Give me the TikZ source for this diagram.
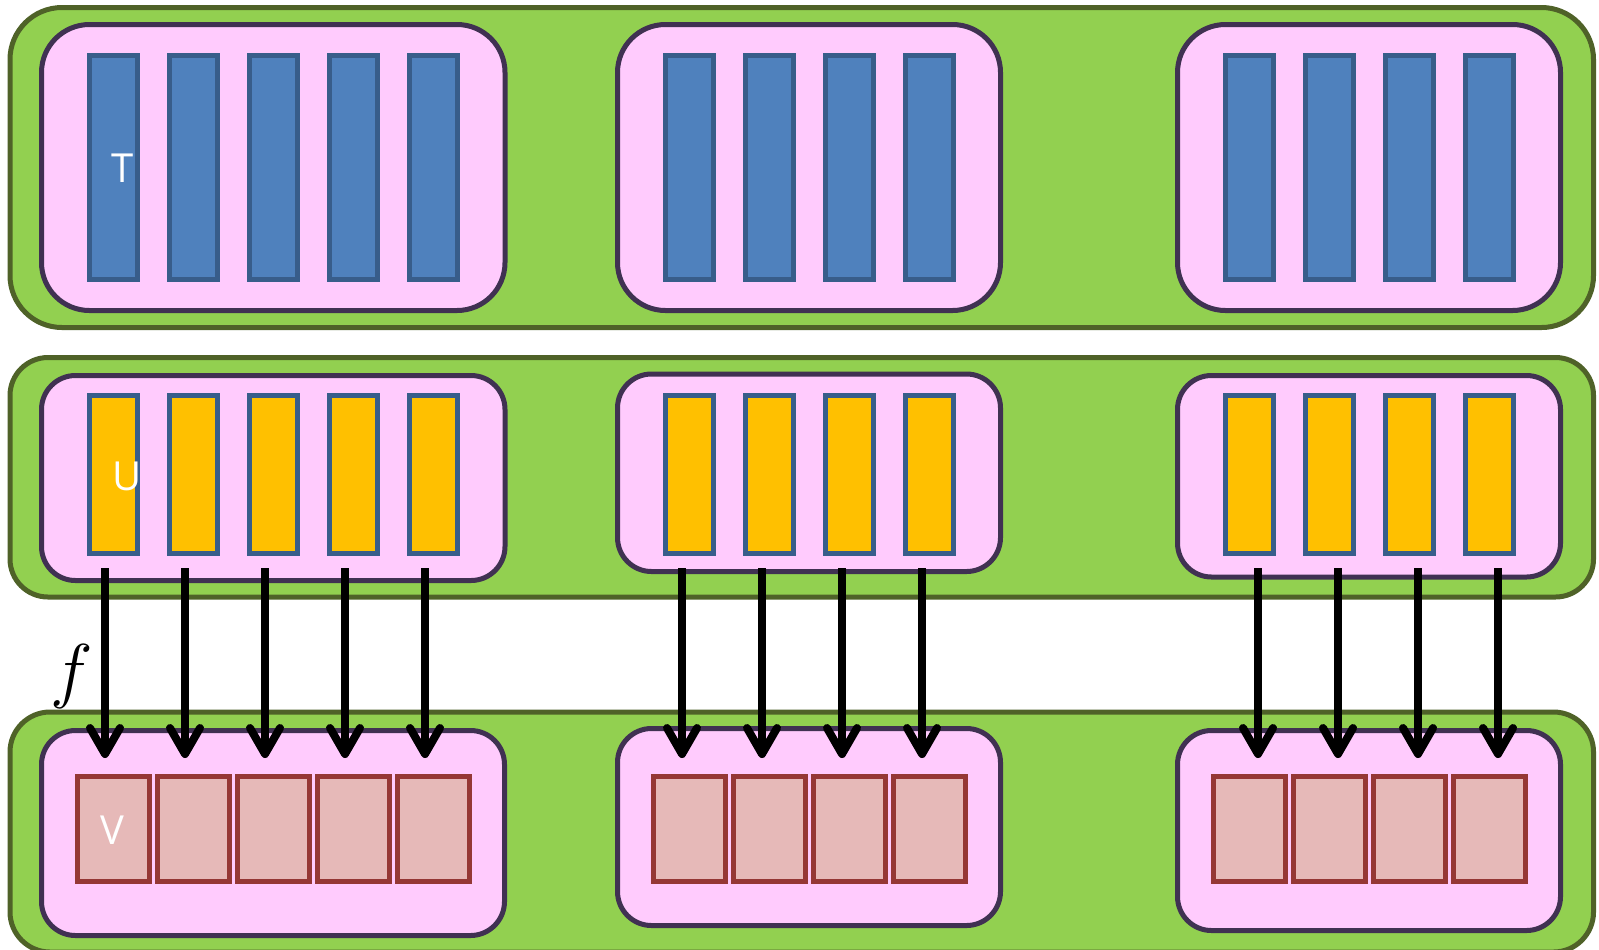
\RequirePackage{fix-cm}
\documentclass[tikz,border=0pt]{standalone}
\usepackage{fontspec}
\newfontfamily\lblfont{Open Sans}
\usetikzlibrary{arrows.meta}
\definecolor{grfill}{HTML}{92D050}
\definecolor{grline}{HTML}{4F6228}
\definecolor{pkfill}{HTML}{FFCBFD}
\definecolor{pkline}{HTML}{403152}
\definecolor{blfill}{HTML}{4F81BD}
\definecolor{blline}{HTML}{385D8A}
\definecolor{yefill}{HTML}{FFC000}
\definecolor{rdfill}{HTML}{E6B9B8}
\definecolor{rdline}{HTML}{953735}
\tikzset{
  outerbox/.style={draw=grline, fill=grfill, line width=2.5pt},
  groupbox/.style={draw=pkline, fill=pkfill, line width=2.5pt},
  tbar/.style={draw=blline, fill=blfill, line width=2.5pt, minimum width=24pt, minimum height=112pt, inner sep=0pt},
  ubar/.style={draw=blline, fill=yefill, line width=2.5pt, minimum width=24pt, minimum height=79pt, inner sep=0pt},
  vbox/.style={draw=rdline, fill=rdfill, line width=2.5pt, minimum width=36pt, minimum height=52.25pt, inner sep=0pt},
  lbl/.style={text=white, font=\lblfont\fontsize{20}{24}\selectfont, inner sep=0pt},
  mapsto/.style={line width=4pt, -{Straight Barb[length=13pt, width=15pt, round]}, shorten <=6pt, shorten >=8pt}
}
\begin{document}
\begin{tikzpicture}[x=0.5pt, y=-0.5pt]
\useasboundingbox (0,0) rectangle (1599,949);
\fill[white] (0,0) rectangle (1599,949);
\begin{scope}
\clip (0,0) rectangle (1599,949);
% outer containers
\draw[outerbox, rounded corners=26pt] (10,7.5) rectangle (1593.5,327.5);
\draw[outerbox, rounded corners=19pt] (10,357.5) rectangle (1593.5,597);
\draw[outerbox, rounded corners=20pt] (10,712) rectangle (1593.5,952);
\end{scope}
% group boxes
\draw[groupbox, rounded corners=24pt] (41.5,24.5) rectangle (505,310.5);
\draw[groupbox, rounded corners=24pt] (617.5,24.5) rectangle (1000.5,310.5);
\draw[groupbox, rounded corners=24pt] (1177.5,24.5) rectangle (1560.5,310.5);
\draw[groupbox, rounded corners=17pt] (41.5,375.5) rectangle (505,580.5);
\draw[groupbox, rounded corners=17pt] (617.5,374) rectangle (1000.5,571.5);
\draw[groupbox, rounded corners=17pt] (1177.5,375.5) rectangle (1560.5,577);
\draw[groupbox, rounded corners=17pt] (41.5,730.5) rectangle (504.5,935.5);
\draw[groupbox, rounded corners=17pt] (617.5,728.5) rectangle (1000.5,925.5);
\draw[groupbox, rounded corners=17pt] (1177.5,730.5) rectangle (1560.5,930.5);
% group 1
\foreach \i in {0,...,4} {
  \node[tbar] (ta\i) at ({113.5+80*\i},167.5) {};
  \node[ubar] (ua\i) at ({113.5+80*\i},474.5) {};
  \node[vbox] (va\i) at ({113+80*\i},828.75) {};
  \draw[mapsto] ([xshift=-4.25pt]ua\i.south) -- ([xshift=-4.25pt]ua\i.south |- va\i.north);
}
% group 2
\foreach \i in {0,...,3} {
  \node[tbar] (tb\i) at ({689.5+80*\i},167.5) {};
  \node[ubar] (ub\i) at ({689.5+80*\i},474.5) {};
  \node[vbox] (vb\i) at ({689+80*\i},828.75) {};
  \draw[mapsto] ([xshift=-3.75pt]ub\i.south) -- ([xshift=-3.75pt]ub\i.south |- vb\i.north);
}
% group 3
\foreach \i in {0,...,3} {
  \node[tbar] (tc\i) at ({1249.5+80*\i},167.5) {};
  \node[ubar] (uc\i) at ({1249.5+80*\i},474.5) {};
  \node[vbox] (vc\i) at ({1249+80*\i},828.75) {};
  \draw[mapsto] ([xshift=4.25pt]uc\i.south) -- ([xshift=4.25pt]uc\i.south |- vc\i.north);
}
% labels
\node[lbl] (tl) at (123,168) {T};
\node[lbl] (ul) at (127,476) {U};
\node[lbl] (vl) at (112,830) {V};
\node[inner sep=0pt, font=\fontsize{36}{42}\selectfont] (fl) at (72,676) {$f$};
\end{tikzpicture}
\end{document}
